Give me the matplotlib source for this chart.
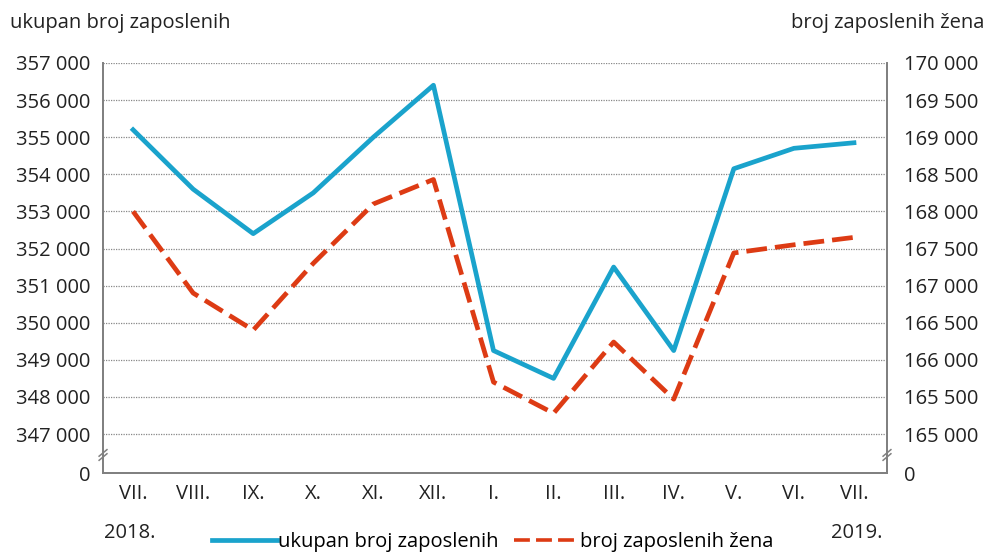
import matplotlib.pyplot as plt
from matplotlib.lines import Line2D
import numpy as np

plt.rcParams['font.family'] = ['Open Sans', 'DejaVu Sans']

months = ["VII.", "VIII.", "IX.", "X.", "XI.", "XII.", "I.", "II.", "III.", "IV.", "V.", "VI.", "VII."]
ukupno = [355200, 353600, 352400, 353500, 355000, 356400, 349250, 348500, 351500, 349250, 354150, 354700, 354850]
zene = [168000, 166900, 166400, 167300, 168100, 168430, 165700, 165280, 166240, 165470, 167440, 167550, 167650]

left_ticks = list(range(347000, 357001, 1000))
right_ticks = list(range(165000, 170001, 500))

def fmt(v):
    return "{:,}".format(v).replace(",", " ")

fs = 14.5
tc = "#222222"

fig = plt.figure(figsize=(9.85, 5.52), dpi=100)
ax = fig.add_axes([0.1046, 0.1431, 0.7959, 0.7428])
ax2 = ax.twinx()

x = np.arange(len(months))
blue = "#1aa3cc"
red = "#dd3b14"

ax.plot(x, ukupno, color=blue, lw=3.4, zorder=3)
ax2.plot(x, zene, color=red, lw=3.4, dashes=(4.4, 1.7), zorder=3)

ax.set_xlim(-0.5, 12.55)
ax.set_ylim(345950, 357000)
ax2.set_ylim(164475, 170000)

ax.set_yticks([345950] + left_ticks)
ax.set_yticklabels(["0"] + [fmt(v) for v in left_ticks])
ax2.set_yticks([164475] + right_ticks)
ax2.set_yticklabels(["0"] + [fmt(v) for v in right_ticks])

for v in left_ticks:
    ax.axhline(v, color="#888888", lw=0.9, ls=(0, (1, 1)), zorder=1)

ax.set_xticks(x)
ax.set_xticklabels(months)

for a in (ax, ax2):
    a.tick_params(length=0, labelsize=fs, colors=tc)
    for s in a.spines.values():
        s.set_color("#808080")
        s.set_linewidth(1.3)
    a.spines["top"].set_visible(False)
ax.tick_params(axis="y", pad=9)
ax2.tick_params(axis="y", pad=12)
ax.tick_params(axis="x", pad=8)

# break marks on both y axes
for xa in (0, 1):
    for dy in (-0.005, 0.005):
        ax.plot([xa - 0.005, xa + 0.005], [0.044 + dy - 0.008, 0.044 + dy + 0.008],
                transform=ax.transAxes, color="#808080", lw=1.1, clip_on=False, zorder=5)

fig.text(0.010, 0.958, "ukupan broj zaposlenih", fontsize=fs, color=tc, va="center")
fig.text(0.999, 0.958, "broj zaposlenih žena", fontsize=fs, color=tc, va="center", ha="right")
fig.text(0.132, 0.034, "2018.", fontsize=fs, color=tc, ha="center", va="center")
fig.text(0.870, 0.034, "2019.", fontsize=fs, color=tc, ha="center", va="center")

handles = [Line2D([], [], color=blue, lw=3.4),
           Line2D([], [], color=red, lw=2.6, dashes=(4.4, 1.7))]
fig.legend(handles, ["ukupan broj zaposlenih", "broj zaposlenih žena"], loc="center",
           bbox_to_anchor=(0.5, 0.018), ncol=2, frameon=False, fontsize=fs,
           handlelength=3.2, handletextpad=0.05, columnspacing=0.8, borderpad=0)

fig.savefig("out.png", dpi=100)
